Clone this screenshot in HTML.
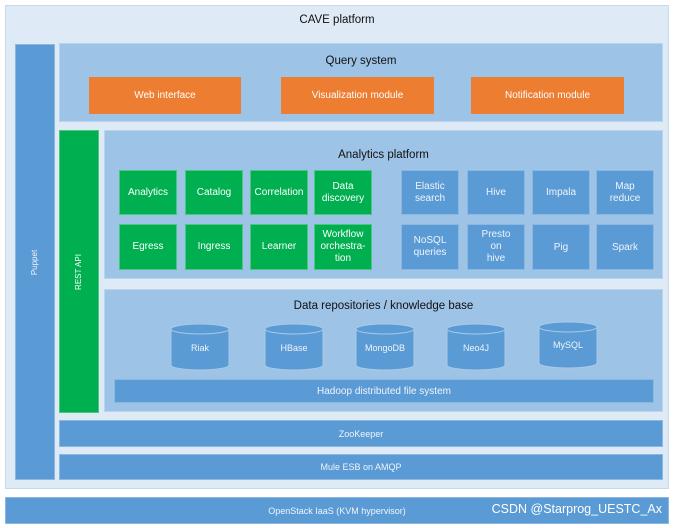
<!DOCTYPE html><html><head><style>
body{margin:0;width:674px;height:528px;background:#fff;position:relative;font-family:"Liberation Sans",sans-serif;overflow:hidden}
div{position:absolute;box-sizing:border-box;display:flex;align-items:center;justify-content:center;text-align:center}
.b{background:#5b9bd5;color:#eef4fb;font-size:10px;border:1px solid #8bb7e0}
.l{background:#9dc3e6;border:1px solid #b8d4ee}
.o{background:#ed7d31;color:#fff;font-size:10px}
.g{background:#00b050;color:#fff;font-size:10px;line-height:12px;border:1px solid #4cc77f}
.t{font-size:11.5px;color:#111;background:none;border:none;height:16px}
</style></head><body>
<div style="left:5px;top:5px;width:664px;height:484px;background:#deeaf6;border:1px solid #c8d9ea"></div>
<div class="t" style="left:5px;top:12px;width:664px">CAVE platform</div>
<div class="b" style="left:15px;top:44px;width:40px;height:436px"><span style="transform:rotate(-90deg);white-space:nowrap;font-size:8px">Puppet</span></div>
<div class="l" style="left:59px;top:43px;width:604px;height:79px"></div>
<div class="t" style="left:59px;top:53px;width:604px">Query system</div>
<div class="o" style="left:89px;top:77px;width:152px;height:37px">Web interface</div>
<div class="o" style="left:281px;top:77px;width:153px;height:37px">Visualization module</div>
<div class="o" style="left:471px;top:77px;width:153px;height:37px">Notification module</div>
<div class="g" style="left:59px;top:130px;width:40px;height:283px"><span style="transform:rotate(-90deg);white-space:nowrap;font-size:8px">REST API</span></div>
<div class="l" style="left:104px;top:130px;width:559px;height:149px"></div>
<div class="t" style="left:104px;top:147px;width:559px">Analytics platform</div>
<div class="g" style="left:119px;top:170px;width:58px;height:45px">Analytics</div>
<div class="g" style="left:185px;top:170px;width:58px;height:45px">Catalog</div>
<div class="g" style="left:250px;top:170px;width:58px;height:45px">Correlation</div>
<div class="g" style="left:314px;top:170px;width:58px;height:45px">Data<br>discovery</div>
<div class="g" style="left:119px;top:224px;width:58px;height:46px">Egress</div>
<div class="g" style="left:185px;top:224px;width:58px;height:46px">Ingress</div>
<div class="g" style="left:250px;top:224px;width:58px;height:46px">Learner</div>
<div class="g" style="left:314px;top:224px;width:58px;height:46px">Workflow<br>orchestra-<br>tion</div>
<div class="b" style="left:401px;top:170px;width:58px;height:45px;line-height:12px">Elastic<br>search</div>
<div class="b" style="left:467px;top:170px;width:58px;height:45px">Hive</div>
<div class="b" style="left:532px;top:170px;width:58px;height:45px">Impala</div>
<div class="b" style="left:596px;top:170px;width:58px;height:45px;line-height:12px">Map<br>reduce</div>
<div class="b" style="left:401px;top:224px;width:58px;height:46px;line-height:12px">NoSQL<br>queries</div>
<div class="b" style="left:467px;top:224px;width:58px;height:46px;line-height:12px">Presto<br>on<br>hive</div>
<div class="b" style="left:532px;top:224px;width:58px;height:46px">Pig</div>
<div class="b" style="left:596px;top:224px;width:58px;height:46px">Spark</div>
<div class="l" style="left:104px;top:289px;width:559px;height:123px"></div>
<div class="t" style="left:104px;top:298px;width:559px">Data repositories / knowledge base</div>
<svg style="position:absolute;left:0;top:0" width="674" height="528" font-family="Liberation Sans" font-size="9" fill="#eef4fb" text-anchor="middle">
<g stroke="#a9c9e8" stroke-width="1">
<path d="M171 329v36a29 5 0 0 0 58 0v-36z" fill="#5b9bd5"/><ellipse cx="200" cy="329" rx="29" ry="5" fill="#5b9bd5"/>
<path d="M265 329v36a29 5 0 0 0 58 0v-36z" fill="#5b9bd5"/><ellipse cx="294" cy="329" rx="29" ry="5" fill="#5b9bd5"/>
<path d="M356 329v36a29 5 0 0 0 58 0v-36z" fill="#5b9bd5"/><ellipse cx="385" cy="329" rx="29" ry="5" fill="#5b9bd5"/>
<path d="M447 329v36a29 5 0 0 0 58 0v-36z" fill="#5b9bd5"/><ellipse cx="476" cy="329" rx="29" ry="5" fill="#5b9bd5"/>
<path d="M539 327v36a29 5 0 0 0 58 0v-36z" fill="#5b9bd5"/><ellipse cx="568" cy="327" rx="29" ry="5" fill="#5b9bd5"/>
</g>
<text x="200" y="351">Riak</text><text x="294" y="351">HBase</text><text x="385" y="351">MongoDB</text><text x="476" y="351">Neo4J</text><text x="568" y="348">MySQL</text>
</svg>
<div class="b" style="left:114px;top:379px;width:540px;height:24px">Hadoop distributed file system</div>
<div class="b" style="left:59px;top:420px;width:604px;height:27px;font-size:9px">ZooKeeper</div>
<div class="b" style="left:59px;top:454px;width:604px;height:26px;font-size:9px">Mule ESB on AMQP</div>
<div class="b" style="left:5px;top:497px;width:664px;height:27px;font-size:9px">OpenStack IaaS (KVM hypervisor)</div>
<div style="left:460px;top:500px;width:202px;height:18px;font-size:12.5px;color:#fff;justify-content:flex-end;white-space:nowrap">CSDN @Starprog_UESTC_Ax</div>
</body></html>
